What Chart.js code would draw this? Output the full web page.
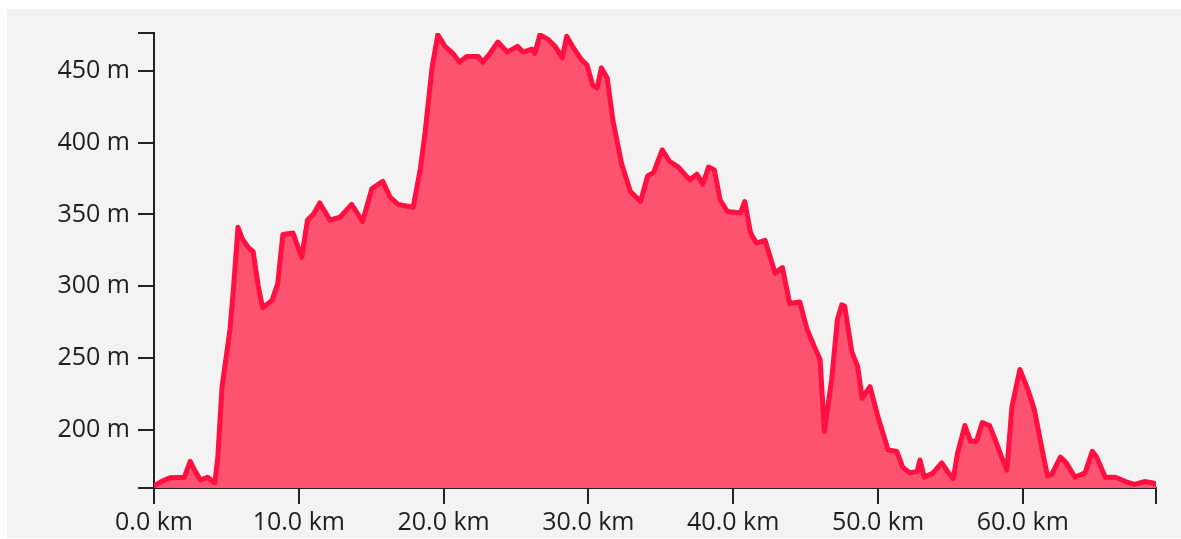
<!DOCTYPE html>
<html>
<head>
<meta charset="utf-8">
<script src="https://cdn.jsdelivr.net/npm/chart.js@4.4.1/dist/chart.umd.min.js"></script>
<style>
    html, body { margin: 0; padding: 0; background: #ffffff; }
    #chart_container { position: absolute; left: 7px; top: 9px; width: 1174px; height: 529px; background: #f3f3f3; }
</style>
</head>
<body>
<div id="chart_container"><canvas id="profile" width="1174" height="529"></canvas></div>
<script>
// distance along the route (km) and elevation (m)
var distances = [
    0.0, 0.5, 1.1, 2.1, 2.5, 2.8, 3.2, 3.7, 4.2, 4.4, 4.7, 5.25, 5.5, 5.8, 6.1, 6.5, 6.85, 7.2, 7.5, 8.15,
    8.55, 8.9, 9.6, 10.2, 10.6, 11.0, 11.45, 12.15, 12.85, 13.65, 14.4, 15.05, 15.8, 16.3, 16.85, 17.9, 18.4, 18.7, 19.2, 19.6,
    20.1, 20.65, 21.1, 21.6, 22.4, 22.7, 23.2, 23.75, 24.4, 25.1, 25.5, 26.1, 26.3, 26.65, 27.2, 27.7, 28.2, 28.5, 28.9, 29.5,
    29.9, 30.3, 30.6, 30.9, 31.3, 31.7, 32.3, 32.9, 33.6, 34.1, 34.5, 35.1, 35.6, 36.2, 37.0, 37.5, 37.9, 38.3, 38.7, 39.1,
    39.6, 40.5, 40.8, 41.2, 41.6, 42.2, 42.9, 43.4, 43.9, 44.6, 45.1, 45.6, 46.0, 46.3, 46.8, 47.2, 47.5, 47.7, 48.2, 48.6,
    48.9, 49.45, 50.0, 50.7, 51.3, 51.7, 52.2, 52.7, 52.9, 53.2, 53.8, 54.4, 54.8, 55.2, 55.5, 56.0, 56.4, 56.8, 57.2, 57.7,
    58.1, 58.5, 58.9, 59.25, 59.8, 60.35, 60.8, 61.3, 61.7, 62.0, 62.6, 63.0, 63.6, 64.3, 64.8, 65.1, 65.7, 66.4, 67.1, 67.7,
    68.4, 69.0, 69.2
];
var elevations = [
    161, 164, 166.6, 167, 178, 172, 165, 167, 163, 180, 230, 270, 300, 341, 333, 327, 324, 300, 285, 290,
    302, 336, 337, 320, 346, 350, 358, 346, 348, 357, 345, 368, 373, 362, 357, 355, 382, 405, 452, 475,
    467, 462, 456, 460, 460, 456, 462, 470, 463, 467, 463, 465, 462, 475, 472, 467, 459, 474, 467, 458,
    454, 440, 438, 452, 445, 415, 385, 366, 359, 377, 379, 395, 387, 383, 374, 378, 371, 383, 381, 360,
    352, 351, 359, 337, 330, 332, 309, 313, 288, 289, 270, 258, 249, 199, 235, 277, 287, 286, 254, 244,
    222, 230, 209, 186, 185, 174, 170, 171, 179, 167, 170, 177, 171, 166, 184, 203, 192, 192, 205, 203,
    193, 182, 172, 216, 242, 228, 214, 188, 168, 169, 181, 177, 167, 170, 185, 181, 167, 167, 164, 162,
    164, 163, 162
];

var x_ticks = [0, 10, 20, 30, 40, 50, 60];
var y_ticks = [200, 250, 300, 350, 400, 450];
var x_min = 0, x_max = 69.2;
var y_min = 159.5, y_max = 476.3;

var points = [];
for (var i = 0; i < distances.length; i++) {
    points.push({x: distances[i], y: elevations[i]});
}

var tick_font = {family: "'Open Sans', sans-serif", size: 25};

var profile_chart = new Chart(document.getElementById("profile"), {
    type: "line",
    data: {
        datasets: [{
            data: points,
            borderColor: "#ff1040",
            backgroundColor: "#fd5370",
            borderWidth: 5,
            borderJoinStyle: "round",
            borderCapStyle: "round",
            pointRadius: 0,
            tension: 0,
            fill: "start"
        }]
    },
    options: {
        responsive: false,
        animation: false,
        layout: {
            padding: {left: 0, top: 24, right: 25, bottom: 0}
        },
        plugins: {
            legend: {display: false},
            tooltip: {enabled: false}
        },
        scales: {
            x: {
                type: "linear",
                min: x_min,
                max: x_max,
                afterBuildTicks: function(scale) {
                    scale.ticks = x_ticks.concat([x_max]).map(function(v) { return {value: v}; });
                },
                afterFit: function(scale) { scale.height = 50; },
                border: {display: true, color: "#222", width: 2},
                grid: {drawOnChartArea: false, drawTicks: true, tickLength: 16, color: "#222", lineWidth: 2},
                ticks: {
                    color: "#1e1e1e",
                    font: tick_font,
                    padding: 4,
                    maxRotation: 0,
                    autoSkip: false,
                    callback: function(value) {
                        return x_ticks.indexOf(value) == -1 ? "" : value.toFixed(1) + " km";
                    }
                }
            },
            y: {
                min: y_min,
                max: y_max,
                afterBuildTicks: function(scale) {
                    scale.ticks = [y_min].concat(y_ticks, [y_max]).map(function(v) { return {value: v}; });
                },
                afterFit: function(scale) { scale.width = 147; },
                border: {display: true, color: "#222", width: 2},
                grid: {drawOnChartArea: false, drawTicks: true, tickLength: 16, color: "#222", lineWidth: 2},
                ticks: {
                    color: "#1e1e1e",
                    font: tick_font,
                    padding: 8,
                    autoSkip: false,
                    callback: function(value) {
                        return y_ticks.indexOf(value) == -1 ? "" : value + " m";
                    }
                }
            }
        }
    }
});
</script>
</body>
</html>
